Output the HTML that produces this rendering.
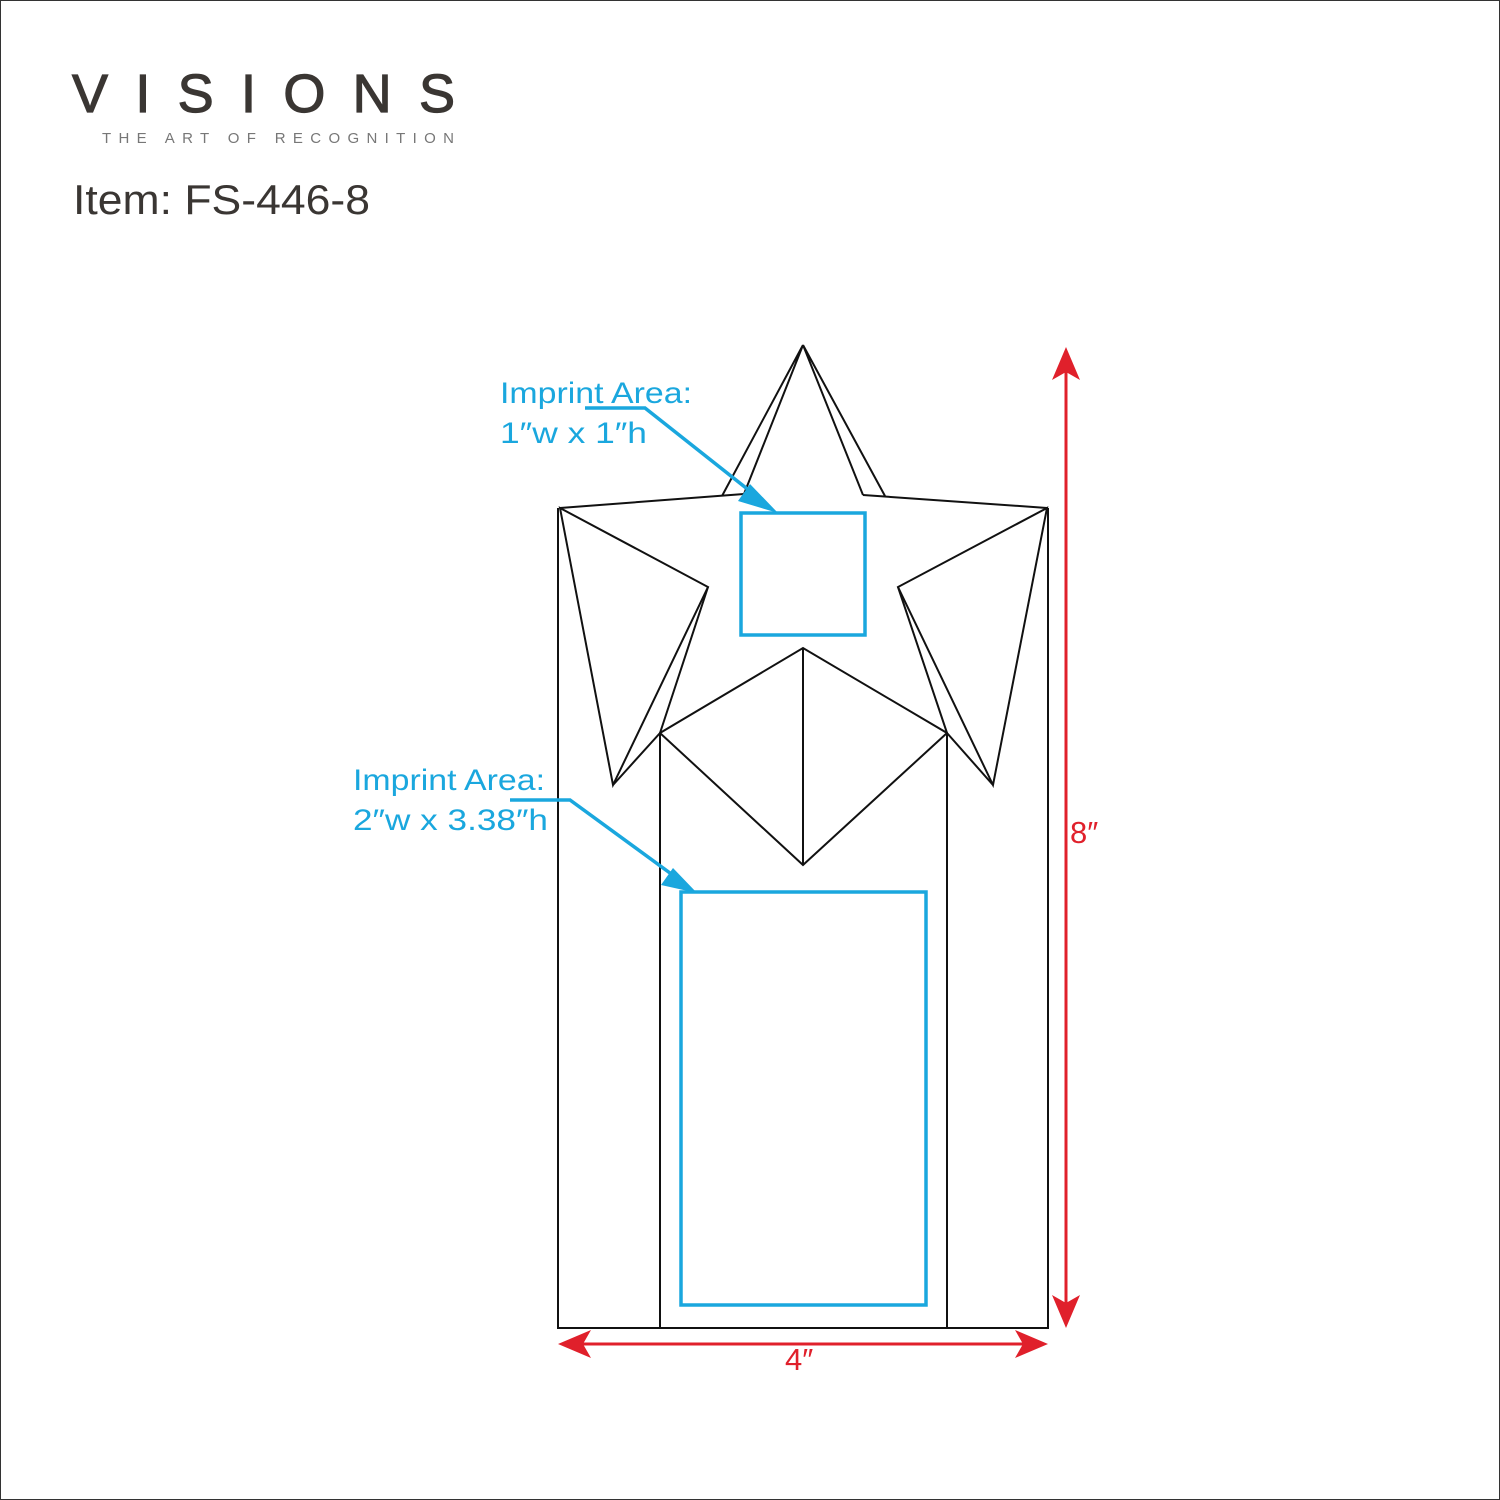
<!DOCTYPE html>
<html><head><style>
body{margin:0;background:#fff;}
svg{display:block}
</style></head><body>
<svg width="1500" height="1500" viewBox="0 0 1500 1500" xmlns="http://www.w3.org/2000/svg">
<rect x="0.5" y="0.5" width="1499" height="1499" fill="#fff" stroke="#333" stroke-width="1"/>
<text x="72" y="112" font-family="Liberation Sans, sans-serif" font-size="54" fill="#3a3633" stroke="#3a3633" stroke-width="1.2" textLength="383" lengthAdjust="spacing">VISIONS</text>
<text x="102" y="143" font-family="Liberation Sans, sans-serif" font-size="15" fill="#777" textLength="352" lengthAdjust="spacing">THE ART OF RECOGNITION</text>
<text x="73" y="214" font-family="Liberation Sans, sans-serif" font-size="42" fill="#3a3633" textLength="297" lengthAdjust="spacingAndGlyphs">Item: FS-446-8</text>
<g fill="none" stroke="#111" stroke-width="2" stroke-linejoin="miter">
<path d="M558 508 V1328 H1048 V508"/>
<path d="M803 345 L722 496 M803 345 L744 494 M803 345 L885 496 M803 345 L863 495"/>
<path d="M560 508 L744 494 M1047 508 L863 495"/>
<path d="M560 508 L708 587 L613 785 Z M1047 508 L898 587 L993 785 Z"/>
<path d="M708 587 L660 733 L613 785 M898 587 L947 733 L993 785"/>
<path d="M660 1328 V733 L803 648 L947 733 V1328 M660 733 L803 865 L947 733 M803 648 V865"/>
</g>
<g fill="none" stroke="#1aa7de" stroke-width="3.5">
<rect x="741" y="513" width="124" height="122"/>
<rect x="681" y="892" width="245" height="413"/>
<path d="M585 408 H645 L765 503"/>
<path d="M510 800 H570 L685 884"/>
</g>
<polygon points="778,513 750,484 738,501" fill="#1aa7de"/>
<polygon points="697,893 673,868 661,885" fill="#1aa7de"/>
<g font-family="Liberation Sans, sans-serif" font-size="30" fill="#1aa7de">
<text x="500" y="403" textLength="192" lengthAdjust="spacingAndGlyphs">Imprint Area:</text>
<text x="500" y="443" textLength="147" lengthAdjust="spacingAndGlyphs">1″w x 1″h</text>
<text x="353" y="790" textLength="192" lengthAdjust="spacingAndGlyphs">Imprint Area:</text>
<text x="353" y="830" textLength="195" lengthAdjust="spacingAndGlyphs">2″w x 3.38″h</text>
</g>
<g stroke="#e0202b" stroke-width="3" fill="#e0202b">
<line x1="1066" y1="365" x2="1066" y2="1310"/>
<line x1="576" y1="1344" x2="1030" y2="1344"/>
<polygon points="1066,347 1052,380 1066,372 1080,380" stroke="none"/>
<polygon points="1066,1328 1052,1295 1066,1303 1080,1295" stroke="none"/>
<polygon points="558,1344 591,1330 583,1344 591,1358" stroke="none"/>
<polygon points="1048,1344 1015,1330 1023,1344 1015,1358" stroke="none"/>
</g>
<g font-family="Liberation Sans, sans-serif" font-size="31" fill="#e0202b">
<text x="1070" y="843">8″</text>
<text x="785" y="1370">4″</text>
</g>
</svg>
</body></html>
